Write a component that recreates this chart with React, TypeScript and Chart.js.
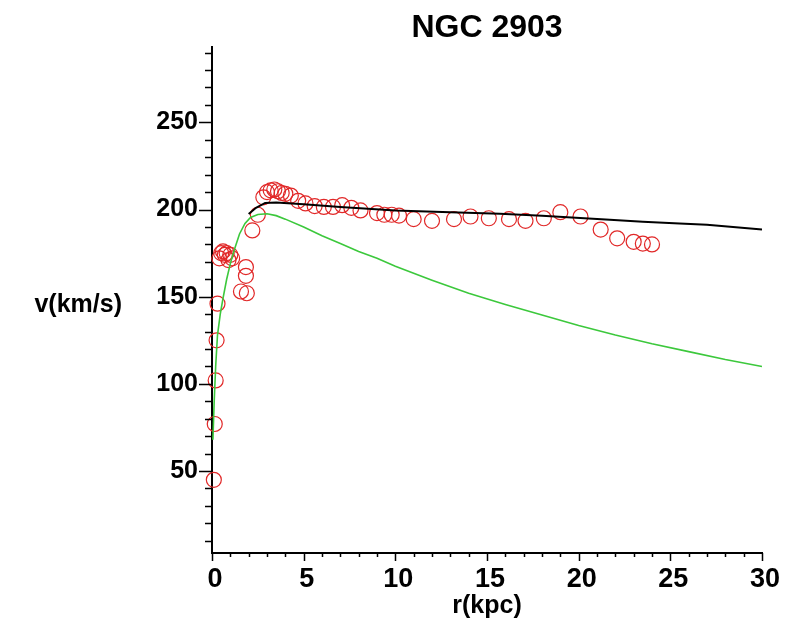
import React, { useEffect, useRef } from 'react';
import { Chart, registerables } from 'chart.js';

Chart.register(...registerables);

const TITLE = 'NGC 2903';
const X_LABEL = 'r(kpc)';
const Y_LABEL = 'v(km/s)';

// Observed rotation curve (red open circles)
const obsR = [
  0.1, 0.15, 0.2, 0.25, 0.3,
  0.4, 0.5, 0.6, 0.7, 0.8, 0.9, 1.0, 1.1,
  1.85, 1.85, 1.58, 1.9,
  2.2, 2.5,
  2.8, 3.0, 3.2, 3.4, 3.6, 3.8, 4.0, 4.3,
  4.7, 5.1, 5.6, 6.1, 6.6, 7.1, 7.6, 8.1,
  9.0, 9.4, 9.8, 10.2,
  11.0, 12.0, 13.2, 14.1, 15.1, 16.2, 17.1, 18.1, 19.0, 20.1,
  21.2, 22.1, 23.0, 23.5, 24.0,
];
const obsV = [
  45, 77, 102, 125, 146,
  172, 175, 176, 174, 175, 171, 174, 172,
  167, 162, 153, 152,
  188, 197,
  207, 210, 211, 211.5, 210.5, 209.5, 209, 208,
  205, 203.5, 202, 201.5, 201.5, 202.5, 201, 199.5,
  198, 197, 197, 196.5,
  194.5, 193.5, 194.5, 196, 195, 194.5, 193.5, 195, 198.5, 196,
  188.5, 183.5, 181.5, 180.5, 180,
];

// Total model curve (black)
const totalR = [2.0, 2.4, 2.9, 3.5, 5, 7, 10, 13, 15.7, 18, 21.7, 23.5, 25.5, 27, 30];
const totalV = [197.5, 201, 203.8, 204, 203, 201.5, 199.5, 198.5, 197.6, 196.5, 194.2, 193, 192, 191.3, 188.6];

// Component curve (green)
const diskR = [
  0.05, 0.12, 0.2, 0.3, 0.45, 0.6, 0.8, 1.0, 1.25, 1.5, 1.8, 2.1, 2.5, 3.0, 3.5, 4,
  5, 6, 7, 8, 9, 10, 12, 14, 16, 18, 20, 22, 24, 26, 28, 30,
];
const diskV = [
  68, 90, 110, 128, 140, 149, 160, 169, 178, 186, 192, 195.5, 197.2, 197.6, 196.5, 194.5,
  190, 185, 180.5, 176, 172, 167.5, 159.5, 152, 145.5, 139.5, 133.5, 128, 123, 118.5, 114, 110,
];

const xTicks = [0, 5, 10, 15, 20, 25, 30];
const yTicks = [50, 100, 150, 200, 250];
const X_MIN = 0;
const X_MAX = 30;
const Y_MIN = 3;
const Y_MAX = 293;
const X_MINOR = 1;
const Y_MINOR = 10;

const FONT = '"Liberation Sans", Arial, Helvetica, sans-serif';

const axisDecor = {
  id: 'axisDecor',
  afterDraw(chart: any) {
    const { ctx, scales } = chart;
    const x = scales.x;
    const y = scales.y;
    ctx.save();
    ctx.strokeStyle = '#000';
    ctx.lineWidth = 1.5;
    ctx.beginPath();
    for (let v = Math.ceil(X_MIN / X_MINOR) * X_MINOR; v <= X_MAX + 1e-9; v += X_MINOR) {
      const px = Math.round(x.getPixelForValue(v)) + 0.5;
      const len = xTicks.includes(v) ? 8 : 4;
      ctx.moveTo(px, x.top);
      ctx.lineTo(px, x.top + len);
    }
    for (let v = Math.ceil(Y_MIN / Y_MINOR) * Y_MINOR; v <= Y_MAX + 1e-9; v += Y_MINOR) {
      const py = Math.round(y.getPixelForValue(v)) + 0.5;
      const len = yTicks.includes(v) ? 13 : 7;
      ctx.moveTo(y.right - len, py);
      ctx.lineTo(y.right, py);
    }
    ctx.stroke();
    ctx.fillStyle = '#000';
    ctx.font = `bold 25px ${FONT}`;
    ctx.textAlign = 'right';
    ctx.textBaseline = 'middle';
    const area = chart.chartArea;
    ctx.fillText(Y_LABEL, area.left - 90, (area.top + area.bottom) / 2 + 5);
    ctx.restore();
  },
};

export default function App() {
  const ref = useRef<HTMLCanvasElement | null>(null);
  useEffect(() => {
    if (!ref.current) return;
    const chart = new Chart(ref.current, {
      type: 'scatter',
      data: {
        datasets: [
          {
            label: 'disk',
            data: diskR.map((r, i) => ({ x: r, y: diskV[i] })),
            showLine: true,
            borderColor: 'rgb(60,200,60)',
            borderWidth: 1.6,
            pointRadius: 0,
            fill: false,
            clip: false,
          },
          {
            label: 'total',
            data: totalR.map((r, i) => ({ x: r, y: totalV[i] })),
            showLine: true,
            borderColor: '#000',
            borderWidth: 2,
            pointRadius: 0,
            fill: false,
            clip: false,
          },
          {
            label: 'observed',
            data: obsR.map((r, i) => ({ x: r, y: obsV[i] })),
            showLine: false,
            pointStyle: 'circle',
            pointRadius: 7.5,
            borderColor: 'rgb(225,40,40)',
            backgroundColor: 'rgba(0,0,0,0)',
            borderWidth: 1.2,
            clip: false,
          },
        ],
      },
      options: {
        responsive: false,
        animation: false,
        layout: { padding: { left: 0, right: 31, top: 0, bottom: 0 } },
        plugins: {
          legend: { display: false },
          tooltip: { enabled: false },
          title: {
            display: true,
            text: TITLE,
            fullSize: false,
            color: '#000',
            font: { family: FONT, size: 32, weight: 'bold' },
            padding: { top: 9, bottom: 0 },
          },
        },
        scales: {
          x: {
            type: 'linear',
            min: X_MIN,
            max: X_MAX,
            afterBuildTicks: (s: any) => {
              s.ticks = xTicks.map((v) => ({ value: v }));
            },
            afterFit: (s: any) => {
              s.height = 86;
            },
            grid: { drawOnChartArea: false, drawTicks: false },
            border: { color: '#000', width: 2 },
            ticks: {
              color: '#000',
              font: { family: FONT, size: 27, weight: 'bold' },
              padding: 10,
              maxRotation: 0,
              autoSkip: false,
              labelOffset: 3,
            },
            title: {
              display: true,
              text: X_LABEL,
              color: '#000',
              font: { family: FONT, size: 25, weight: 'bold' },
              padding: { top: 0, bottom: 18 },
            },
          },
          y: {
            type: 'linear',
            min: Y_MIN,
            max: Y_MAX,
            afterBuildTicks: (s: any) => {
              s.ticks = yTicks.map((v) => ({ value: v }));
            },
            afterFit: (s: any) => {
              s.width = 212;
            },
            grid: { drawOnChartArea: false, drawTicks: false },
            border: { color: '#000', width: 2 },
            ticks: {
              color: '#000',
              font: { family: FONT, size: 25, weight: 'bold' },
              padding: 14,
              autoSkip: false,
            },
          },
        },
      },
      plugins: [axisDecor],
    } as any);
    return () => chart.destroy();
  }, []);
  return (
    <div style={{ position: 'absolute', left: 0, top: 0, width: 793, height: 639, background: '#fff' }}>
      <canvas ref={ref} width={793} height={639} style={{ display: 'block' }} />
    </div>
  );
}
